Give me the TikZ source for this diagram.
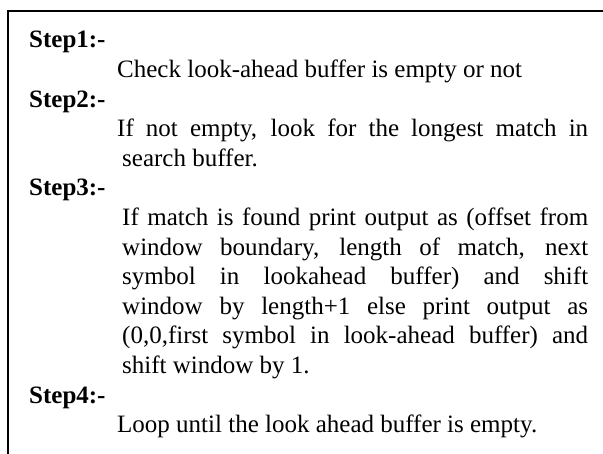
\documentclass[tikz,border=0pt]{standalone}
\usepackage{fontspec}
\setmainfont{Liberation Serif}
\newcommand\fullline[2]{\makebox[#1][s]{#2}}
\tikzset{
  frameline/.style={line width=1.5pt, black},
  steplabel/.style={anchor=base west, inner sep=0pt, font=\fontsize{25}{30}\selectfont\bfseries},
  bodyline/.style={anchor=base west, inner sep=0pt, font=\fontsize{25}{30}\selectfont},
}
\begin{document}
\begin{tikzpicture}[x=1pt,y=-1pt]
  \useasboundingbox (0,0) rectangle (603,454);
  % open frame: top and left edges only
  \coordinate (fbl) at (8,454);
  \coordinate (ftl) at (8,11);
  \coordinate (ftr) at (603,11);
  \draw[frameline] (fbl) -- (ftl) -- (ftr);

  % step 1
  \node[steplabel] (s1) at (29,48) {Step1:-};
  \node[bodyline] (s1a) at (117,77.6) {Check look-ahead buffer is empty or not};
  % step 2
  \node[steplabel] (s2) at (29,107.2) {Step2:-};
  \node[bodyline] (s2a) at (117,136.8) {\fullline{471pt}{If not empty, look for the longest match in}};
  \node[bodyline] (s2b) at (122,166.4) {search buffer.};
  % step 3
  \node[steplabel] (s3) at (29,196) {Step3:-};
  \node[bodyline] (s3a) at (122,225.6) {\fullline{466pt}{If match is found print output as (offset from}};
  \node[bodyline] (s3b) at (122,255.2) {\fullline{466pt}{window boundary, length of match, next}};
  \node[bodyline] (s3c) at (122,284.8) {\fullline{466pt}{symbol in lookahead buffer) and shift}};
  \node[bodyline] (s3d) at (122,314.4) {\fullline{466pt}{window by length+1 else print output as}};
  \node[bodyline] (s3e) at (122,344) {\fullline{466pt}{(0,0,first symbol in look-ahead buffer) and}};
  \node[bodyline] (s3f) at (122,373.6) {shift window by 1.};
  % step 4
  \node[steplabel] (s4) at (29,403.2) {Step4:-};
  \node[bodyline] (s4a) at (117,432.8) {Loop until the look ahead buffer is empty.};
\end{tikzpicture}
\end{document}
